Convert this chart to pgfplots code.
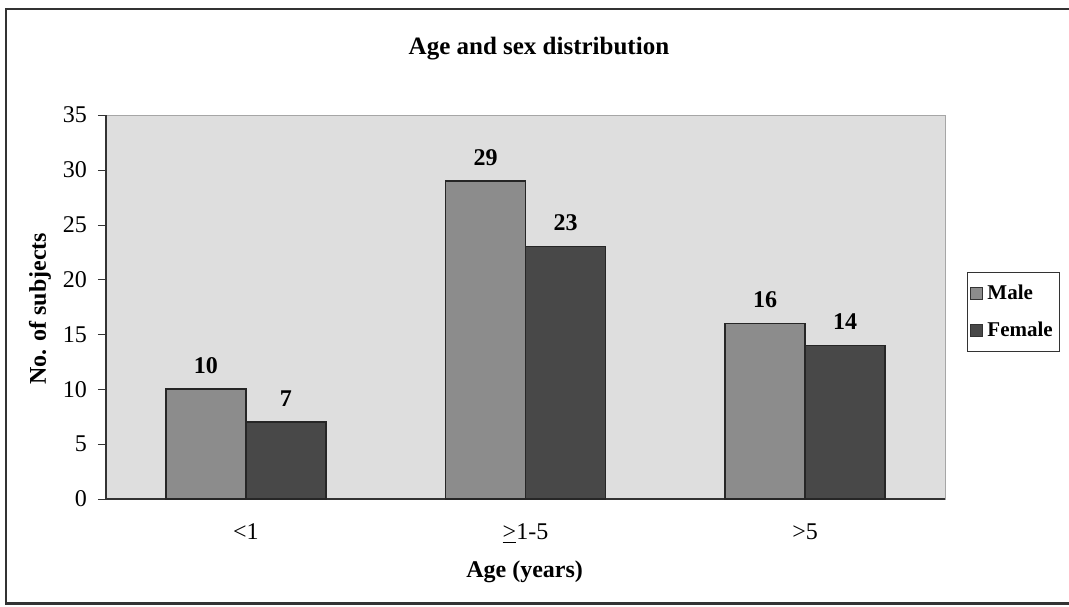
\documentclass[border=0pt]{standalone}
\usepackage{pgfplots}
\pgfplotsset{compat=1.18}
\usepackage{fontspec}
\setmainfont{Liberation Serif}
\definecolor{plotbg}{RGB}{222,222,222}
\definecolor{malec}{RGB}{140,140,140}
\definecolor{femalec}{RGB}{72,72,72}
\begin{document}
\begin{tikzpicture}
\path[use as bounding box] (0pt,0pt) rectangle (534.5pt,303pt);
\draw[line width=1.2pt, black!80] (3pt,1.2pt) rectangle (540pt,298.5pt);
\begin{axis}[
  at={(53pt,53.5pt)}, anchor=south west,
  scale only axis, width=419.5pt, height=192pt,
  ybar=0pt, bar width=40pt,
  xmin=-0.5, xmax=2.5, ymin=0, ymax=35,
  ytick={0,5,...,35},
  xtick={0,1,2}, xticklabels={{<1},{\underline{>}1-5},{>5}},
  extra x ticks={-0.5,0.5,1.5,2.5}, extra x tick labels={},
  extra x tick style={major tick length=4pt, tick style={black!80}},
  x tick style={draw=none},
  y tick style={black!80},
  major tick length=4pt,
  tick align=outside, tick pos=left,
  axis x line*=bottom, axis y line*=left,
  axis line style={-, black!80, line width=0.8pt},
  axis background/.style={fill=plotbg, draw=gray!70},
  /pgf/number format/assume math mode=true,
  tick label style={font=\fontsize{12}{14}\selectfont},
  yticklabel style={xshift=-2pt},
  xticklabel style={yshift=-5pt},
  title={Age and sex distribution},
  title style={font=\bfseries\fontsize{12.5}{15}\selectfont, at={(rel axis cs:0.516,1.143)}, anchor=center},
  xlabel={Age (years)},
  xlabel style={font=\bfseries\fontsize{12}{14}\selectfont, at={(rel axis cs:0.499,-0.19)}, anchor=center},
  ylabel={No. of subjects},
  ylabel style={font=\bfseries\fontsize{12}{14}\selectfont, at={(rel axis cs:-0.0787,0.495)}, anchor=center},
  nodes near coords,
  every node near coord/.append style={font=\bfseries\fontsize{12}{14}\selectfont, yshift=4pt, black},
  legend style={at={(rel axis cs:1.026,0.591)}, anchor=north west, draw=black!80,
    font=\bfseries\fontsize{10.5}{12}\selectfont, inner xsep=1.5pt, inner ysep=4pt, row sep=6pt, fill=white},
  legend cell align=left,
  legend image code/.code={\draw[#1, draw=black!80, line width=0.6pt] (0pt,-3pt) rectangle (6pt,3pt);},
]
\addplot[fill=malec, draw=black!85, line width=0.8pt] coordinates {(0,10) (1,29) (2,16)};
\addplot[fill=femalec, draw=black!85, line width=0.8pt] coordinates {(0,7) (1,23) (2,14)};
\legend{Male, Female}
\end{axis}
\end{tikzpicture}
\end{document}
